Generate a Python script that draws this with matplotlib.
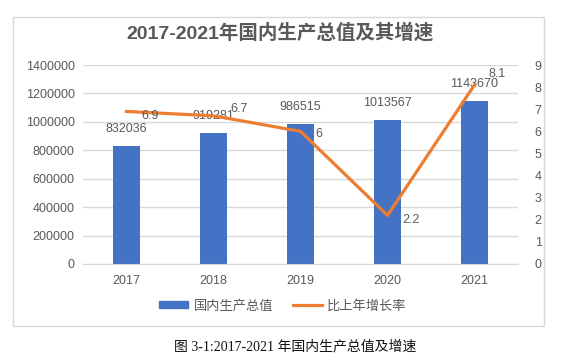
import matplotlib.pyplot as plt
import matplotlib.patches as mpatches
import matplotlib.lines as mlines
import numpy as np

plt.rcParams['font.family'] = ['Liberation Sans', 'Noto Sans CJK SC', 'DejaVu Sans']

years = ['2017', '2018', '2019', '2020', '2021']
gdp = [832036, 919281, 986515, 1013567, 1143670]
growth = [6.9, 6.7, 6.0, 2.2, 8.1]
growth_labels = ['6.9', '6.7', '6', '2.2', '8.1']

bar_color = '#4472C4'
line_color = '#ED7D31'
text_gray = '#595959'
grid_gray = '#D9D9D9'

fig = plt.figure(figsize=(5.65, 3.57), dpi=100)

# chart frame
fig.patches.append(mpatches.Rectangle((13/565, 1-326/357), (544-13)/565, (326-17)/357,
                                      transform=fig.transFigure, fill=False,
                                      edgecolor=grid_gray, linewidth=1))

ax = fig.add_axes([83/565, 1-264/357, (518-83)/565, (264-65)/357])
x = np.arange(len(years))
ax.bar(x, gdp, width=0.31, color=bar_color, zorder=2)
ax.set_ylim(0, 1400000)
yt = np.arange(0, 1400001, 200000)
ax.set_yticks(yt)
ax.set_yticklabels([str(v) for v in yt])
ax.set_xlim(-0.5, 4.5)
ax.set_xticks(x)
ax.set_xticklabels(years)
ax.grid(axis='y', color=grid_gray, linewidth=1, zorder=0)
for s in ax.spines.values():
    s.set_visible(False)
ax.spines['bottom'].set_visible(True)
ax.spines['bottom'].set_color(grid_gray)
ax.tick_params(length=0, labelsize=9, colors=text_gray, pad=6)
ax.tick_params(axis='x', pad=8)

for xi, v in zip(x, gdp):
    ax.annotate(str(v), (xi, v), xytext=(0, 8), textcoords='offset points',
                ha='center', va='bottom', fontsize=9, color=text_gray)

ax2 = ax.twinx()
ax2.plot(x, growth, color=line_color, linewidth=2.3, zorder=3)
ax2.set_ylim(0, 9)
ax2.set_yticks(range(0, 10))
for s in ax2.spines.values():
    s.set_visible(False)
ax2.tick_params(length=0, labelsize=9, colors=text_gray, pad=12)

offsets = [(11, -3), (12, 5), (11, -2), (11, -3), (10, 8)]
for xi, v, lab, off in zip(x, growth, growth_labels, offsets):
    ax2.annotate(lab, (xi, v), xytext=off, textcoords='offset points',
                 ha='left', va='center', fontsize=9, color=text_gray)

fig.text(0.495, 1-33/357, '2017-2021年国内生产总值及其增速', ha='center', va='center',
         fontsize=14, fontweight='bold', color=text_gray)

h1 = mpatches.Patch(color=bar_color, label='国内生产总值')
h2 = mlines.Line2D([], [], color=line_color, linewidth=2.3, label='比上年增长率')
fig.legend(handles=[h1, h2], loc='center', bbox_to_anchor=(283/565, 1-306/357),
           ncol=2, frameon=False, fontsize=9.5, labelcolor=text_gray,
           handlelength=2.2, handleheight=0.5, columnspacing=1.5, handletextpad=0.4)

fig.text(295/565, 1-346/357, '图 3-1:2017-2021 年国内生产总值及增速', ha='center', va='center',
         fontsize=10, color='#111111',
         family=['Liberation Serif', 'Noto Sans CJK SC'])

fig.savefig('out.png', dpi=100)
